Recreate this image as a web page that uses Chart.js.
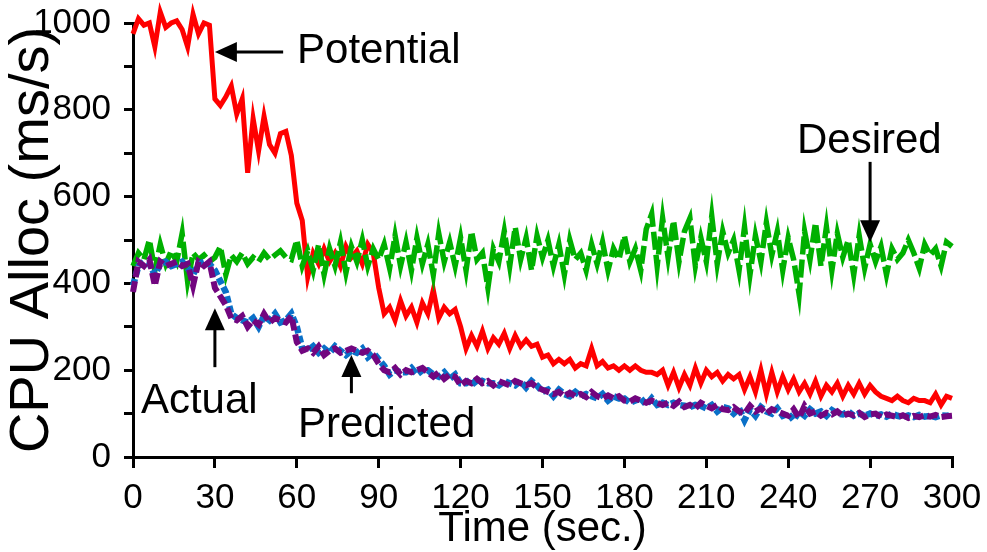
<!DOCTYPE html>
<html>
<head>
<meta charset="utf-8">
<script src="https://cdn.jsdelivr.net/npm/chart.js@4.4.0/dist/chart.umd.min.js"></script>
<style>
  html, body { margin: 0; padding: 0; background: #fff; }
  #wrap { width: 987px; height: 552px; }
</style>
</head>
<body>
<div id="wrap"><canvas id="cpu" width="987" height="552"></canvas></div>
<script>
// Sample times (sec.)
const seconds = [
  0, 2, 4, 6, 8, 10, 12, 14, 16, 18, 20, 22, 24, 26, 28,
  30, 32, 34, 36, 38, 40, 42, 44, 46, 48, 50, 52, 54, 56, 58,
  60, 62, 64, 66, 68, 70, 72, 74, 76, 78, 80, 82, 84, 86, 88,
  90, 92, 94, 96, 98, 100, 102, 104, 106, 108, 110, 112, 114, 116, 118,
  120, 122, 124, 126, 128, 130, 132, 134, 136, 138, 140, 142, 144, 146, 148,
  150, 152, 154, 156, 158, 160, 162, 164, 166, 168, 170, 172, 174, 176, 178,
  180, 182, 184, 186, 188, 190, 192, 194, 196, 198, 200, 202, 204, 206, 208,
  210, 212, 214, 216, 218, 220, 222, 224, 226, 228, 230, 232, 234, 236, 238,
  240, 242, 244, 246, 248, 250, 252, 254, 256, 258, 260, 262, 264, 266, 268,
  270, 272, 274, 276, 278, 280, 282, 284, 286, 288, 290, 292, 294, 296, 298,
  300
];

// CPU allocation (ms/s)
const potential = [
  975, 1010, 995, 1000, 945, 1025, 990, 1000, 1005, 985, 945, 1020, 975, 1000, 995,
  825, 810, 830, 855, 790, 825, 655, 780, 705, 785, 720, 700, 745, 750, 695,
  585, 545, 415, 470, 445, 480, 450, 470, 440, 485, 460, 475, 445, 490, 470,
  390, 330, 345, 315, 360, 325, 345, 310, 355, 330, 385, 320, 345, 330, 340,
  300, 250, 280, 255, 290, 250, 275, 260, 285, 250, 280, 255, 270, 255, 260,
  230, 235, 215, 225, 215, 225, 205, 215, 210, 250, 210, 220, 205, 210, 200,
  210, 200, 210, 200, 195, 195, 190, 200, 165, 195, 160, 190, 165, 205, 170,
  200, 185, 195, 175, 190, 180, 190, 155, 185, 150, 200, 145, 195, 150, 185,
  155, 180, 150, 170, 145, 175, 140, 165, 150, 170, 140, 165, 145, 170, 145,
  165, 150, 140, 135, 130, 140, 130, 125, 135, 130, 130, 125, 145, 120, 140,
  135
];

const desired = [
  440, 470, 455, 500, 430, 490, 445, 475, 450, 515, 405, 470, 455, 465, 450,
  460, 485, 420, 465, 450, 470, 445, 460, 450, 470, 455, 465, 475, 460, 455,
  500, 440, 475, 430, 490, 420, 480, 440, 495, 425, 485, 450, 500, 440, 480,
  455, 490, 435, 510, 440, 495, 430, 505, 445, 490, 420, 515, 450, 495, 440,
  505, 430, 520, 455, 470, 390, 480, 450, 520, 440, 530, 455, 505, 430, 510,
  460, 500, 440, 490, 420, 500, 455, 470, 430, 490, 445, 495, 430, 480, 455,
  510, 450, 480, 430, 525, 560, 440, 550, 460, 545, 450, 520, 550, 440, 505,
  450, 555, 445, 520, 470, 500, 430, 530, 420, 510, 450, 540, 465, 520, 430,
  505, 455, 375, 520, 455, 540, 440, 530, 430, 515, 460, 500, 420, 510, 435,
  490, 450, 485, 420, 480, 455, 470, 500, 470, 435, 490, 465, 480, 440, 495,
  485
];

const actual = [
  380, 450, 440, 455, 395, 450, 440, 445, 450, 440, 445, 395, 450, 440, 450,
  390, 370, 350, 320, 315, 325, 300, 315, 305, 330, 310, 320, 315, 310, 325,
  265, 245, 250, 240, 255, 235, 245, 250, 240, 245, 250, 245, 240, 245, 235,
  215, 200, 195, 205, 190, 200, 195, 200, 205, 195, 185, 195, 180, 190, 185,
  165, 175, 170, 180, 170, 175, 165, 175, 170, 165, 175, 170, 165, 170, 160,
  155, 150, 145, 150, 140, 148, 140, 145, 138, 150, 140, 135, 142, 135, 140,
  130, 128, 135, 130, 125, 130, 125, 120, 125, 118, 128, 115, 120, 112, 125,
  118, 112, 120, 110, 108, 115, 105, 100, 118, 105, 112, 100, 110, 105, 100,
  95, 110, 90, 118, 100, 105, 95, 102, 98, 105, 95, 100, 96, 102, 92,
  98, 100, 92, 98, 95, 92, 96, 90, 95, 92, 96, 93, 97, 92, 94,
  95
];

const predicted = [
  395, 440, 450, 445, 420, 445, 450, 440, 445, 450, 435, 420, 445, 450, 445,
  430, 405, 380, 330, 320, 315, 310, 320, 300, 325, 315, 330, 310, 315, 330,
  300, 250, 245, 255, 240, 250, 240, 255, 245, 235, 245, 240, 250, 230, 240,
  225, 210, 190, 200, 195, 195, 205, 190, 200, 200, 190, 185, 195, 180, 190,
  170, 170, 180, 165, 175, 170, 170, 165, 175, 170, 165, 175, 160, 175, 165,
  150, 155, 140, 155, 145, 140, 150, 140, 145, 140, 135, 145, 130, 140, 135,
  135, 125, 130, 135, 120, 135, 120, 125, 120, 125, 120, 118, 115, 120, 118,
  112, 120, 105, 115, 112, 100, 112, 85, 110, 95, 115, 105, 100, 112, 95,
  100, 85, 105, 95, 110, 100, 105, 95, 108, 100, 98, 105, 95, 100, 95,
  100, 95, 98, 93, 100, 95, 92, 96, 92, 97, 93, 95, 92, 96, 95,
  97
];

const xTickStep = 30;     // labelled every 30 s
const yTickStep = 100;    // tick marks every 100, labels every 200
const yLabelStep = 200;

const FONT = "'Liberation Sans', Arial, Helvetica, sans-serif";

function series(values) {
  return seconds.map((t, i) => ({ x: t, y: values[i] }));
}

// Callout labels with arrows, placed in data units
const callouts = [
  { text: 'Potential', at: [60.1, 908], from: [55, 933], to: [30, 933] },
  { text: 'Desired',   at: [243.2, 700], from: [270, 680], to: [270, 495] },
  { text: 'Actual',    at: [2.9, 101],  from: [30, 207], to: [30, 343] },
  { text: 'Predicted', at: [60.4, 46],  from: [80, 147], to: [80, 235] }
];

const calloutPlugin = {
  id: 'callouts',
  afterDatasetsDraw(chart) {
    const { ctx, scales: { x, y } } = chart;
    ctx.save();
    ctx.fillStyle = '#000';
    ctx.strokeStyle = '#000';
    ctx.font = '42px ' + FONT;
    ctx.textAlign = 'left';
    ctx.textBaseline = 'alphabetic';
    callouts.forEach(c => {
      ctx.fillText(c.text, x.getPixelForValue(c.at[0]), y.getPixelForValue(c.at[1]));
      const x0 = x.getPixelForValue(c.from[0]), y0 = y.getPixelForValue(c.from[1]);
      const x1 = x.getPixelForValue(c.to[0]),   y1 = y.getPixelForValue(c.to[1]);
      const len = Math.hypot(x1 - x0, y1 - y0);
      const ux = (x1 - x0) / len, uy = (y1 - y0) / len;
      const head = 22, half = 10;
      const bx = x1 - ux * head, by = y1 - uy * head;
      ctx.lineWidth = 3;
      ctx.beginPath();
      ctx.moveTo(x0, y0);
      ctx.lineTo(bx + ux, by + uy);
      ctx.stroke();
      ctx.beginPath();
      ctx.moveTo(x1, y1);
      ctx.lineTo(bx - uy * half, by + ux * half);
      ctx.lineTo(bx + uy * half, by - ux * half);
      ctx.closePath();
      ctx.fill();
    });
    ctx.restore();
  }
};

new Chart(document.getElementById('cpu'), {
  type: 'line',
  data: {
    datasets: [
      { label: 'Actual', data: series(actual), borderColor: '#72067f', borderWidth: 6, borderDash: [11, 4] },
      { label: 'Predicted', data: series(predicted), borderColor: '#0a70c8', borderWidth: 6.5, borderDash: [7, 3] },
      { label: 'Desired', data: series(desired), borderColor: '#00b000', borderWidth: 5.5, borderDash: [18, 5] },
      { label: 'Potential', data: series(potential), borderColor: '#ff0000', borderWidth: 5 }
    ]
  },
  options: {
    responsive: false,
    animation: false,
    clip: false,
    layout: { padding: { top: 23, right: 35, left: 0, bottom: 0 } },
    plugins: { legend: { display: false }, tooltip: { enabled: false } },
    elements: {
      point: { radius: 0, hoverRadius: 0 },
      line: { tension: 0, borderJoinStyle: 'miter', borderCapStyle: 'butt', fill: false }
    },
    scales: {
      x: {
        type: 'linear',
        min: 0,
        max: 300,
        ticks: {
          stepSize: xTickStep,
          autoSkip: false,
          maxRotation: 0,
          color: '#000',
          padding: 13,
          font: { family: FONT, size: 35, lineHeight: 1 }
        },
        grid: { drawOnChartArea: false, drawTicks: true, tickLength: 11, color: '#000', lineWidth: 3 },
        border: { display: true, color: '#000', width: 3 },
        title: {
          display: true,
          text: 'Time (sec.)',
          color: '#000',
          font: { family: FONT, size: 42, lineHeight: 1 },
          padding: { top: 0, bottom: 2 }
        },
        afterFit(scale) {
          scale.height = 95;
          scale.paddingLeft = 0;
          scale.paddingRight = 0;
        }
      },
      y: {
        min: 0,
        max: 1000,
        ticks: {
          stepSize: yTickStep,
          autoSkip: false,
          color: '#000',
          padding: 13,
          font: { family: FONT, size: 35, lineHeight: 1 },
          callback: v => (v % yLabelStep === 0 ? String(v) : '')
        },
        grid: { drawOnChartArea: false, drawTicks: true, tickLength: 9, color: '#000', lineWidth: 3 },
        border: { display: true, color: '#000', width: 3 },
        title: {
          display: true,
          text: 'CPU Alloc (ms/s)',
          color: '#000',
          font: { family: FONT, size: 56, lineHeight: 0.8 },
          padding: { top: 10, bottom: 0 }
        },
        afterFit(scale) {
          scale.width = 133;
          scale.paddingTop = 0;
          scale.paddingBottom = 0;
        }
      }
    }
  },
  plugins: [calloutPlugin]
});
</script>
</body>
</html>
